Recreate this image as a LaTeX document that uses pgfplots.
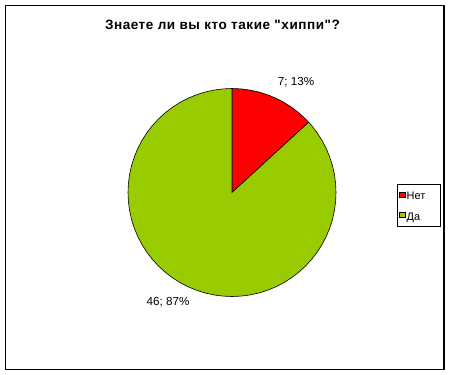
\documentclass[border=0pt]{standalone}
\usepackage{fontspec}
\setmainfont{Liberation Sans}[Ligatures=TeXOff]
\usepackage{pgfplots}
\pgfplotsset{compat=1.18}
\usepgfplotslibrary{polar}
\definecolor{pieRed}{HTML}{FF0000}
\definecolor{pieGreen}{HTML}{99CC00}
\begin{document}
\begin{tikzpicture}[x=1bp,y=1bp]
\path[use as bounding box] (0,0) rectangle (449,374);
\fill[white] (0,0) rectangle (449,374);
\draw[line width=1.3bp] (5.5,4.7) rectangle (444,368.5);
\node[font=\fontsize{13.6}{15}\selectfont\bfseries\addfontfeature{LetterSpace=4}] at (222.5,349) {Знаете ли вы кто такие "хиппи"?};
\draw[line width=0.8bp] (397.5,148) rectangle (440,189.3);
\begin{polaraxis}[
  at={(232bp,181.5bp)}, anchor=center,
  width=208bp, height=208bp, scale only axis,
  ymin=0, ymax=104,
  hide axis, clip=false,
  legend style={at={(1.3029,0.4315)}, anchor=west, draw=none, fill=none,
    font=\fontsize{11}{12}\selectfont, inner sep=0pt,
    nodes={inner sep=0.5bp, text height=8bp, text depth=2bp},
    row sep=9.5bp, column sep=0.5bp, cells={anchor=west}},
  legend image code/.code={\draw[#1,draw=black,line width=0.5bp] (0bp,-0.5bp) rectangle (6bp,4.5bp);},
]
% Нет = 7 (13%): from 90 deg clockwise by 47.5 deg
\addplot[fill=pieRed, draw=black, line width=0.6bp] coordinates {
(0,0) (90,104) (85,104) (80,104) (75,104) (70,104) (65,104) (60,104) (55,104) (50,104) (45,104) (42.5,104) (0,0)
} -- cycle;
\addlegendentry{Нет}
% Да = 46 (87%)
\addplot[fill=pieGreen, draw=black, line width=0.6bp] coordinates {
(0,0) (42.5,104) (40,104) (35,104) (30,104) (25,104) (20,104) (15,104) (10,104) (5,104) (0,104)
(-5,104) (-10,104) (-15,104) (-20,104) (-25,104) (-30,104) (-35,104) (-40,104) (-45,104) (-50,104)
(-55,104) (-60,104) (-65,104) (-70,104) (-75,104) (-80,104) (-85,104) (-90,104) (-95,104) (-100,104)
(-105,104) (-110,104) (-115,104) (-120,104) (-125,104) (-130,104) (-135,104) (-140,104) (-145,104) (-150,104)
(-155,104) (-160,104) (-165,104) (-170,104) (-175,104) (-180,104) (-185,104) (-190,104) (-195,104) (-200,104)
(-205,104) (-210,104) (-215,104) (-220,104) (-225,104) (-230,104) (-235,104) (-240,104) (-245,104) (-250,104)
(-255,104) (-260,104) (-265,104) (-270,104) (0,0)
} -- cycle;
\addlegendentry{Да}
\node[font=\fontsize{11.7}{13}\selectfont] at (axis cs:59.9,127.7) {7; 13\%};
\node[font=\fontsize{11.7}{13}\selectfont] at (axis cs:239.7,126.8) {46; 87\%};
\end{polaraxis}
\end{tikzpicture}
\end{document}
